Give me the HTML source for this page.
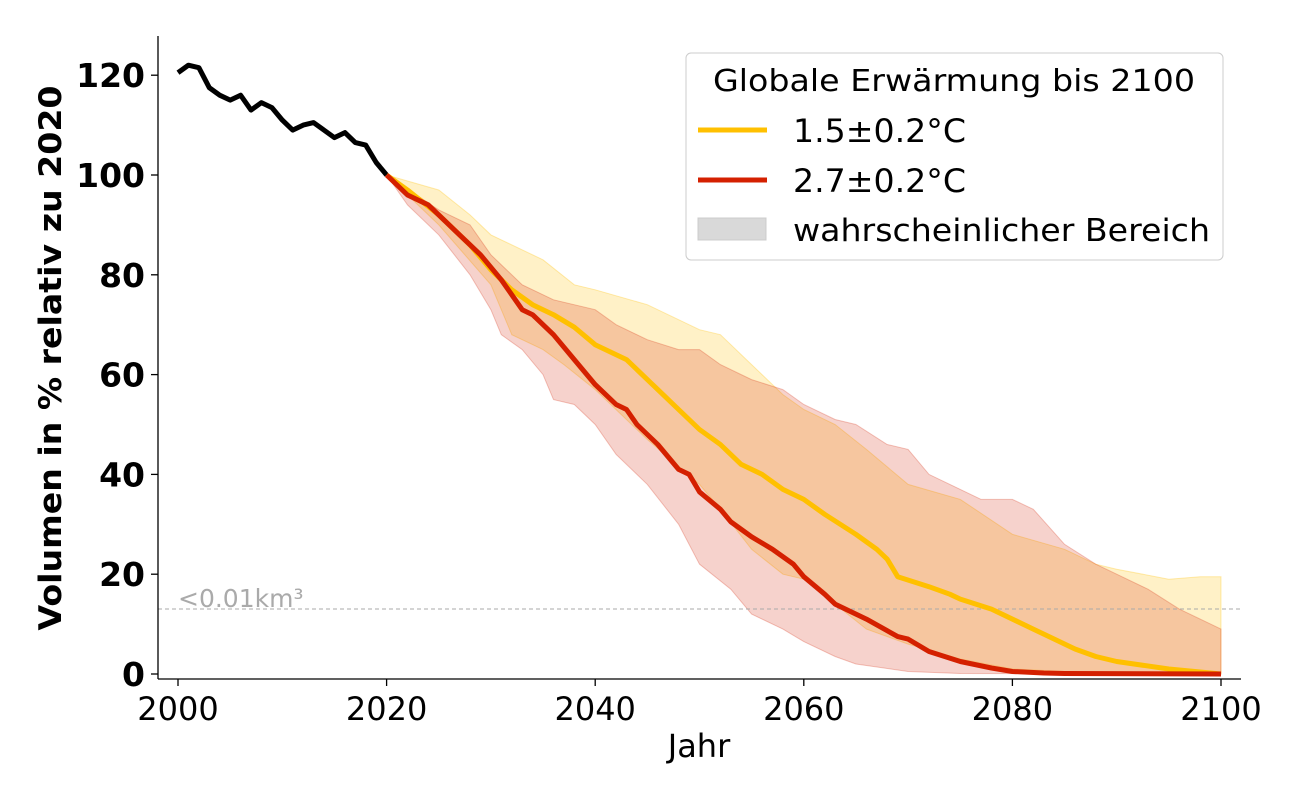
<!DOCTYPE html>
<html><head><meta charset="utf-8"><style>
html,body{margin:0;padding:0;background:#fff;}
svg{display:block;font-family:"DejaVu Sans","Liberation Sans",sans-serif;}
</style></head><body>
<svg id="s" width="1300" height="800" viewBox="0 0 1300 800" xmlns="http://www.w3.org/2000/svg">
<g id="plot"></g>
<line x1="158" y1="36" x2="158" y2="679" stroke="#000" stroke-width="1.3"/>
<line x1="158" y1="679" x2="1241" y2="679" stroke="#000" stroke-width="1.3"/>
<g id="ticks"></g>
<text x="178" y="607" font-size="25" fill="#aaa">&lt;0.01km³</text>
<text x="699" y="757" font-size="32" text-anchor="middle">Jahr</text>
<text transform="translate(61,358) rotate(-90)" font-size="31" font-weight="bold" text-anchor="middle" textLength="545" lengthAdjust="spacingAndGlyphs">Volumen in % relativ zu 2020</text>
<rect x="686" y="53" width="537" height="207" rx="5" fill="#fff" fill-opacity="0.85" stroke="#ccc"/>
<text x="954" y="91" font-size="30" text-anchor="middle" textLength="482" lengthAdjust="spacingAndGlyphs">Globale Erwärmung bis 2100</text>
<line x1="698" y1="130" x2="767" y2="130" stroke="#ffc000" stroke-width="5"/>
<text x="793" y="142" font-size="32" textLength="173" lengthAdjust="spacingAndGlyphs">1.5±0.2°C</text>
<line x1="698" y1="180" x2="767" y2="180" stroke="#d42000" stroke-width="5"/>
<text x="793" y="192" font-size="32" textLength="173" lengthAdjust="spacingAndGlyphs">2.7±0.2°C</text>
<rect x="698" y="218" width="68" height="22" fill="#d9d9d9" stroke="#ccc"/>
<text x="793" y="241" font-size="31" textLength="417" lengthAdjust="spacingAndGlyphs">wahrscheinlicher Bereich</text>
</svg>
<script>
const X=y=>178+(y-2000)*10.43, Y=v=>674-v*4.99;
const pts=a=>{let r=[];for(let i=0;i<a.length;i+=2)r.push(X(a[i]).toFixed(1)+','+Y(a[i+1]).toFixed(1));return r;};
const line=a=>'M'+pts(a).join('L');
const band=(u,l)=>{let p=pts(u),q=pts(l).reverse();return 'M'+p.join('L')+'L'+q.join('L')+'Z';};
const black=[];[120.5,122,121.5,117.5,116,115,116,113,114.5,113.5,111,109,110,110.5,109,107.5,108.5,106.5,106,102.5,100].forEach((v,i)=>black.push(2000+i,v));
const yel=[2020,100,2022,97,2025,92,2028,86,2030,81,2032,77,2034,74,2036,72,2038,69.5,2040,66,2043,63,2046,57,2048,53,2050,49,2052,46,2054,42,2056,40,2058,37,2060,35,2062,32,2065,28,2067,25,2068,23,2069,19.5,2072,17.5,2074,16,2075,15,2078,13,2082,9,2086,5,2088,3.5,2090,2.5,2095,1,2100,0];
const red=[2020,100,2022,96,2024,94,2027,88,2029,84,2031,79,2033,73,2034,72,2036,68,2038,63,2040,58,2042,54,2043,53,2044,50,2046,46,2048,41,2049,40,2050,36.5,2052,33,2053,30.5,2055,27.5,2057,25,2059,22,2060,19.5,2062,16,2063,14,2066,11,2069,7.5,2070,7,2072,4.5,2075,2.5,2078,1.2,2080,0.5,2083,0.2,2085,0.1,2100,0];
const yu=[2020,100,2025,97,2028,92,2030,88,2035,83,2038,78,2040,77,2045,74,2050,69,2052,68,2055,62,2058,56,2060,53,2063,50,2066,45,2070,38,2075,35,2080,28,2085,25,2088,22,2090,21,2095,19,2098,19.5,2100,19.5];
const yl=[2020,100,2025,90,2030,78,2032,68,2035,65,2037,62,2040,57,2045,47,2050,38,2052,33,2055,25,2058,20,2060,19,2063,14,2066,9,2070,6,2075,3,2080,1,2085,0.5,2090,0.2,2100,0];
const ru=[2020,100,2025,93,2028,90,2030,84,2033,78,2036,75,2040,73,2042,70,2045,67,2048,65,2050,65,2052,62,2055,59,2058,57,2060,54,2063,51,2065,50,2068,46,2070,45,2072,40,2075,37,2077,35,2080,35,2082,33,2085,26,2088,22,2090,20,2093,17,2096,13,2100,9];
const rl=[2020,100,2022,94,2025,88,2028,80,2030,73,2031,68,2033,65,2035,60,2036,55,2038,54,2040,50,2042,44,2045,38,2048,30,2050,22,2053,17,2055,12,2058,9,2060,6.5,2063,3.5,2065,2,2070,0.5,2075,0.1,2100,0];
let h='';
h+=`<path d="${band(yu,yl)}" fill="#ffc000" fill-opacity="0.22" stroke="#ffc000" stroke-opacity="0.3"/>`;
h+=`<path d="${band(ru,rl)}" fill="#d42000" fill-opacity="0.2" stroke="#d42000" stroke-opacity="0.25"/>`;
h+=`<line x1="158" y1="609" x2="1241" y2="609" stroke="#aaa" stroke-dasharray="4,3" stroke-width="1"/>`;
h+=`<path d="${line(black)}" fill="none" stroke="#000" stroke-width="5" stroke-linejoin="round"/>`;
h+=`<path d="${line(yel)}" fill="none" stroke="#ffc000" stroke-width="5" stroke-linejoin="round"/>`;
h+=`<path d="${line(red)}" fill="none" stroke="#d42000" stroke-width="5" stroke-linejoin="round"/>`;
document.getElementById('plot').innerHTML=h;
let t='';
for(let v=0;v<=120;v+=20){let y=Y(v);t+=`<line x1="151" y1="${y}" x2="158" y2="${y}" stroke="#000" stroke-width="1.3"/><text x="145" y="${y+12}" text-anchor="end" font-weight="bold" font-size="33">${v}</text>`;}
for(let yr=2000;yr<=2100;yr+=20){let x=X(yr);t+=`<line x1="${x}" y1="679" x2="${x}" y2="686" stroke="#000" stroke-width="1.3"/><text x="${x}" y="720" text-anchor="middle" font-size="32">${yr}</text>`;}
document.getElementById('ticks').innerHTML=t;
</script>
</body></html>
